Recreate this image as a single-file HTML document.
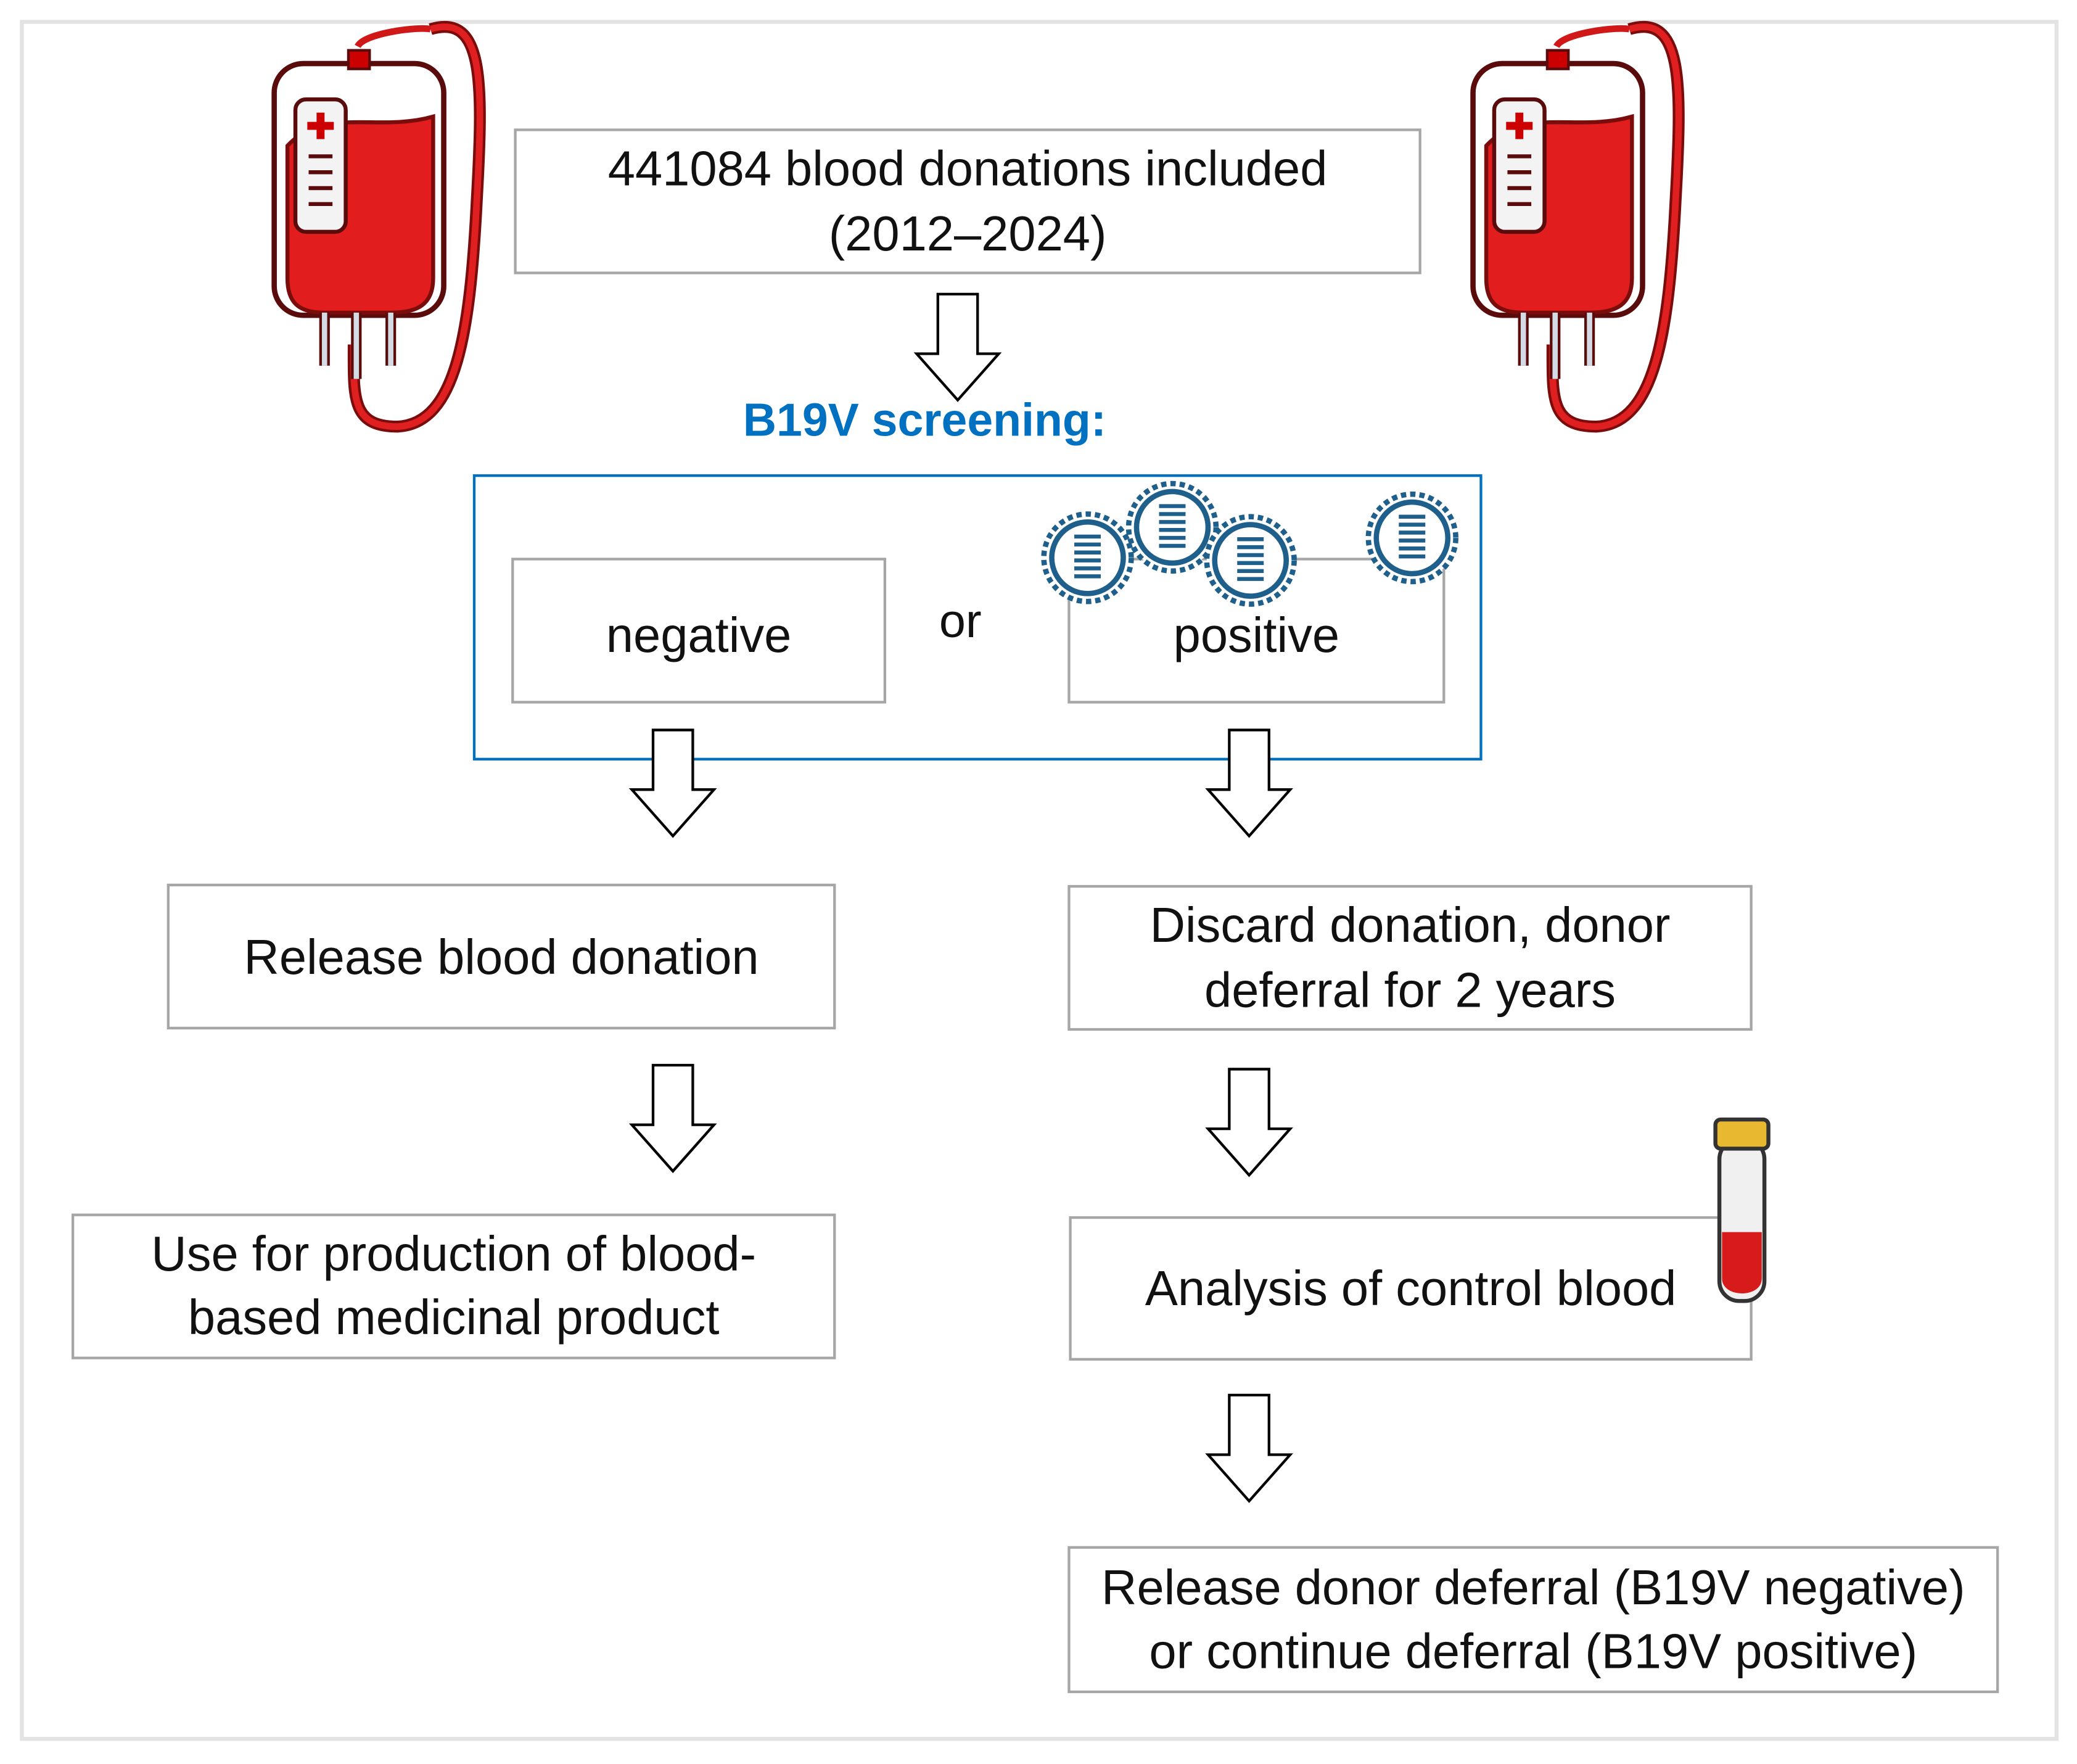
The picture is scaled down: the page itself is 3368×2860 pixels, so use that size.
<!DOCTYPE html>
<html><head><meta charset="utf-8"><style>
html,body{margin:0;padding:0;background:#fff;}
body{width:3368px;height:2860px;overflow:hidden;position:relative;}
#w{position:absolute;left:0;top:0;width:1568px;height:1331px;transform:scale(2.148);transform-origin:0 0;}
.b{position:absolute;border:2px solid #a6a6a6;box-sizing:border-box;display:flex;align-items:center;justify-content:center;text-align:center;font-family:"Liberation Sans",sans-serif;font-size:37px;line-height:49px;color:#111;white-space:nowrap;}
.t{position:absolute;font-family:"Liberation Sans",sans-serif;}
svg{position:absolute;left:0;top:0;}
</style></head><body><div id="w">
<div style="position:absolute;left:15px;top:15px;width:1539px;height:1299px;border:3px solid #e3e3e3;box-sizing:border-box"></div>
<div class="b" style="left:388px;top:97px;width:685px;height:110px">441084 blood donations included<br>(2012–2024)</div>
<div class="t" style="left:480px;top:298px;width:436px;text-align:center;font-weight:bold;color:#0070c0;font-size:35px">B19V screening:</div>
<div style="position:absolute;left:357px;top:358px;width:762px;height:216px;border:2px solid #0070c0;box-sizing:border-box"></div>
<div class="b" style="left:386px;top:421px;width:283px;height:110px;padding-top:6px">negative</div>
<div class="t" style="left:680px;top:448px;width:90px;text-align:center;font-size:36px;color:#111">or</div>
<div class="b" style="left:806px;top:421px;width:285px;height:110px;padding-top:6px">positive</div>
<div class="b" style="left:126px;top:667px;width:505px;height:110px">Release blood donation</div>
<div class="b" style="left:806px;top:668px;width:517px;height:110px">Discard donation, donor<br>deferral for 2 years</div>
<div class="b" style="left:54px;top:916px;width:577px;height:110px;line-height:48px">Use for production of blood-<br>based medicinal product</div>
<div class="b" style="left:807px;top:918px;width:516px;height:109px">Analysis of control blood</div>
<div class="b" style="left:806px;top:1167px;width:703px;height:111px;line-height:48px">Release donor deferral (B19V negative)<br>or continue deferral (B19V positive)</div>
<svg width="1568" height="1331" viewBox="0 0 1568 1331">
<defs>
<g id="ar"><path d="M-15,0 H15 V45 H31 L0,80 L-31,45 H-15 Z" fill="#fff" stroke="#000" stroke-width="2"/></g>
<g id="bag">
<path d="M120,22 C160,10 160,60 155,150 C150,250 140,320 95,322 C60,322 62,300 62,260" fill="none" stroke="#7a0c0c" stroke-width="9"/>
<path d="M120,22 C160,10 160,60 155,150 C150,250 140,320 95,322 C60,322 62,300 62,260" fill="none" stroke="#e02020" stroke-width="5"/>
<path d="M65,35 C70,25 110,20 120,22" fill="none" stroke="#d01818" stroke-width="5"/>
<rect x="2" y="48" width="128" height="190" rx="22" fill="#fff" stroke="#5a0b0b" stroke-width="4"/>
<path d="M12,110 C40,80 80,100 122,88 V210 C122,230 110,236 90,236 H40 C20,236 12,228 12,210 Z" fill="#e11d1d" stroke="#7a0c0c" stroke-width="3"/>
<rect x="18" y="75" width="38" height="100" rx="8" fill="#f3f3f3" stroke="#5a0b0b" stroke-width="3"/>
<path d="M37,85 v20 M27,95 h20" stroke="#c00" stroke-width="6"/>
<path d="M28,118h18M28,130h18M28,142h18M28,154h18" stroke="#5a0b0b" stroke-width="3"/>
<rect x="58" y="38" width="16" height="14" fill="#c00" stroke="#5a0b0b" stroke-width="2"/>
<path d="M40,236 v40 M64,236 v50 M90,236 v40" stroke="#5a0b0b" stroke-width="8"/>
<path d="M40,236 v40 M64,236 v50 M90,236 v40" stroke="#d5dbe5" stroke-width="4"/>
</g>
<g id="v"><circle r="33" fill="#fff" stroke="#1f5f8b" stroke-width="4" stroke-dasharray="4 3"/><circle r="27" fill="#fff" stroke="#1f5f8b" stroke-width="4"/><path d="M-10,-16 h20 M-10,-10 h20 M-10,-4 h20 M-10,2 h20 M-10,8 h20 M-10,14 h20" stroke="#1f5f8b" stroke-width="3"/></g>
</defs>
<use href="#ar" x="723" y="222"/>
<use href="#ar" x="508" y="551"/>
<use href="#ar" x="943" y="551"/>
<use href="#ar" x="508" y="804"/>
<use href="#ar" x="943" y="807"/>
<use href="#ar" x="943" y="1053"/>
<use href="#bag" x="205" y="0"/>
<use href="#bag" x="1110" y="0"/>
<use href="#v" x="821" y="421"/>
<use href="#v" x="885" y="398"/>
<use href="#v" x="944" y="423"/>
<use href="#v" x="1066" y="406"/>
<rect x="1298" y="860" width="34" height="122" rx="15" fill="#f0f0f0" stroke="#333" stroke-width="3"/>
<path d="M1300,930 H1330 V965 C1330,980 1300,980 1300,965 Z" fill="#d71a1a"/>
<rect x="1295" y="845" width="40" height="22" rx="4" fill="#e8b830" stroke="#333" stroke-width="3"/>
</svg>
</div></body></html>
